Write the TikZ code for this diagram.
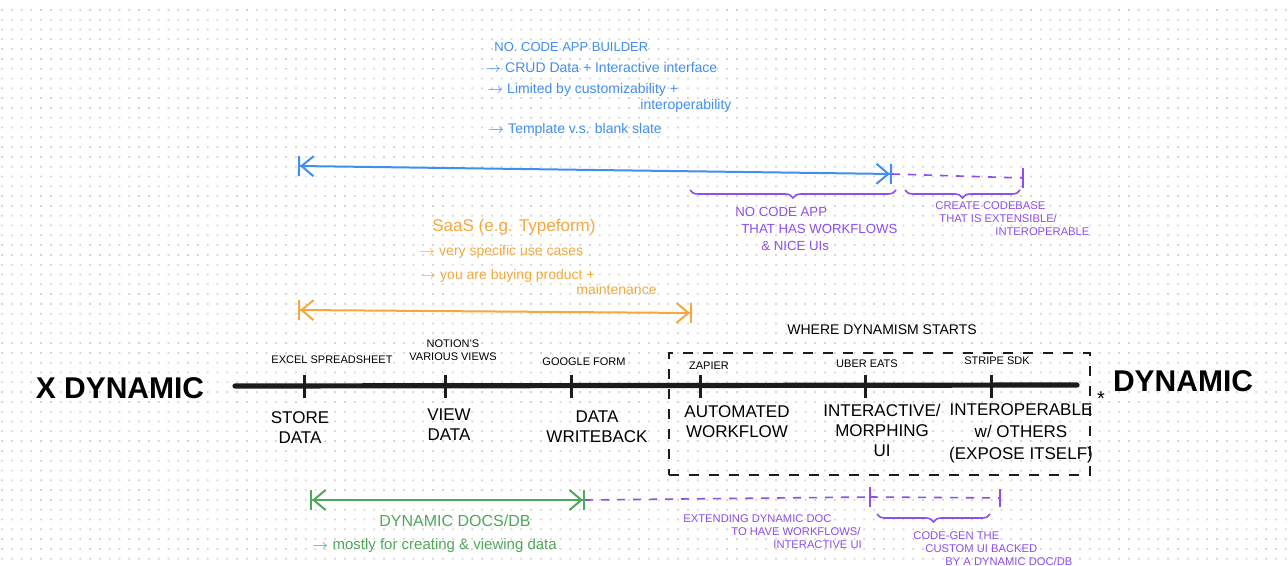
\documentclass[tikz,border=0pt]{standalone}
\usepackage{fontspec}
\setmainfont{Liberation Sans}
\usetikzlibrary{arrows.meta,decorations.pathreplacing}

\definecolor{inkblack}{RGB}{28,28,28}
\definecolor{sketchblue}{RGB}{66,142,240}
\definecolor{sketchorange}{RGB}{244,168,62}
\definecolor{sketchgreen}{RGB}{78,168,92}
\definecolor{sketchpurple}{RGB}{140,78,240}
\definecolor{dotgray}{RGB}{214,214,214}

\tikzset{
  ticklabel/.style={font=\fontsize{5.5}{6.5}\selectfont, align=center, inner sep=0pt},
  stagelabel/.style={font=\fontsize{8.5}{10}\selectfont, align=center, inner sep=0pt},
  endlabel/.style={font=\bfseries\fontsize{15}{16}\selectfont, inner sep=0pt},
  bignote/.style={font=\fontsize{7}{9}\selectfont, align=left, inner sep=0pt, anchor=west},
  smallnote/.style={font=\fontsize{5.6}{6.6}\selectfont, align=left, inner sep=0pt, anchor=north west},
  spanarrow/.style={line width=1pt, {Bar[width=10pt]Straight Barb[length=6pt,width=10pt]}-{Straight Barb[length=6pt,width=10pt]Bar[width=10pt]}},
  extdash/.style={sketchpurple, line width=0.8pt, dash pattern=on 4pt off 4pt},
  extbar/.style={sketchpurple, line width=1pt},
  spanbrace/.style={sketchpurple, line width=0.8pt, decorate, decoration={brace, amplitude=4pt, mirror}},
}

\begin{document}
\begin{tikzpicture}[x=0.5pt,y=-0.5pt]
\useasboundingbox (0,0) rectangle (1288,566);
\fill[white] (0,0) rectangle (1288,566);
\foreach \gy in {9,18.8,...,566} {
  \fill[dotgray] \foreach \gx in {1,10.8,...,1288} {(\gx,\gy) rectangle +(1.8,1.8)};
}

% timeline
\node[endlabel] (xdyn) at (120,388) {X DYNAMIC};
\node[endlabel] (dyn) at (1183,381) {DYNAMIC};
\coordinate (axisL) at (235,386);
\coordinate (axisR) at (1077,385);
\draw[inkblack, line width=2.6pt, line cap=round] (axisL) -- (axisR);
\foreach \tx [count=\ti] in {304,445,571,700,865,991} {
  \coordinate (tick\ti) at (\tx,386);
  \draw[inkblack, line width=1.5pt] (\tx,375) -- (\tx,398);
}

\node[ticklabel] (excel) at (332,360) {EXCEL SPREADSHEET};
\node[ticklabel] (notion) at (453,350) {NOTION'S\\VARIOUS VIEWS};
\node[ticklabel] (gform) at (584,362) {GOOGLE FORM};
\node[ticklabel] (zapier) at (709,366) {ZAPIER};
\node[ticklabel] (uber) at (867,364) {UBER EATS};
\node[ticklabel] (stripe) at (997,361) {STRIPE SDK};

\node[stagelabel] (store) at (300,428) {STORE\\DATA};
\node[stagelabel] (view) at (449,425) {VIEW\\DATA};
\node[stagelabel] (writeback) at (597,427) {DATA\\WRITEBACK};
\node[stagelabel] (automated) at (737,422) {AUTOMATED\\WORKFLOW};
\node[stagelabel] (morphing) at (882,430) {INTERACTIVE/\\MORPHING\\UI};
\node[stagelabel, font=\fontsize{8.5}{11}\selectfont] (interop) at (1021,433) {INTEROPERABLE\\w/ OTHERS\\(EXPOSE ITSELF)};
\node[font=\fontsize{10}{10}\selectfont, inner sep=0pt] (star) at (1101,399) {*};

\node[draw=inkblack, line width=1pt, dash pattern=on 5pt off 5pt, minimum width=210.5pt, minimum height=61pt, inner sep=0pt] (dynzone) at (879.5,414) {};
\node[font=\fontsize{7}{8}\selectfont, inner sep=0pt] (dyntitle) at (882,330) {WHERE DYNAMISM STARTS};

% no-code range
\coordinate (blueL) at (298,166);
\coordinate (blueR) at (892,174);
\draw[sketchblue, spanarrow] (blueL) -- (blueR);
\node[bignote, sketchblue, font=\fontsize{6.5}{8}\selectfont] (nocode) at (494,47) {NO. CODE APP BUILDER};
\node[bignote, sketchblue] (crud) at (485,68) {$\rightarrow$ CRUD Data + Interactive interface};
\node[bignote, sketchblue] (limited) at (487,90) {$\rightarrow$ Limited by customizability +};
\node[bignote, sketchblue] (interopb) at (640,106) {interoperability};
\node[bignote, sketchblue] (template) at (488,130) {$\rightarrow$ Template v.s. blank slate};

\coordinate (codebaseR) at (1023,178);
\draw[extdash] (blueR) -- (codebaseR);
\draw[extbar] (1023,168) -- (1023,188);
\draw[spanbrace] (690,190) -- (896,190);
\draw[spanbrace] (905,190) -- (1020,190);
\node[smallnote, sketchpurple, font=\fontsize{6.6}{8.4}\selectfont] (nocodeapp) at (735,207) {NO CODE APP\\\hspace*{3pt}THAT HAS WORKFLOWS\\\hspace*{13pt}\& NICE UIs};
\node[smallnote, sketchpurple] (codebase) at (935,201) {CREATE CODEBASE\\\hspace*{2pt}THAT IS EXTENSIBLE/\\\hspace*{30pt}INTEROPERABLE};

% saas range
\coordinate (saasL) at (298,310);
\coordinate (saasR) at (692,313);
\draw[sketchorange, spanarrow] (saasL) -- (saasR);
\node[bignote, sketchorange, font=\fontsize{8.5}{10}\selectfont] (saas) at (432,227) {SaaS (e.g. Typeform)};
\node[bignote, sketchorange] (specific) at (419,252) {$\rightarrow$ very specific use cases};
\node[smallnote, sketchorange, font=\fontsize{7}{7.5}\selectfont] (buying) at (420,269) {$\rightarrow$ you are buying product +\\\hspace*{78pt}maintenance};

% dynamic docs range
\coordinate (docsL) at (310,500);
\coordinate (docsR) at (585,500);
\draw[sketchgreen, spanarrow] (docsL) -- (docsR);
\node[sketchgreen, font=\fontsize{8}{9}\selectfont, inner sep=0pt] (docs) at (455,521) {DYNAMIC DOCS/DB};
\node[bignote, sketchgreen, font=\fontsize{7.5}{9}\selectfont] (mostly) at (312,546) {$\rightarrow$ mostly for creating \& viewing data};

\coordinate (extendR) at (870,497);
\coordinate (codegenR) at (1000,498);
\draw[extdash] (docsR) -- (extendR);
\draw[extdash] (extendR) -- (codegenR);
\draw[extbar] (870,487) -- (870,507);
\draw[extbar] (1000,489) -- (1000,507);
\draw[spanbrace] (877,514) -- (990,514);
\node[smallnote, sketchpurple] (extending) at (683,514) {EXTENDING DYNAMIC DOC\\\hspace*{24pt}TO HAVE WORKFLOWS/\\\hspace*{45pt}INTERACTIVE UI};
\node[smallnote, sketchpurple] (codegen) at (913,531) {CODE-GEN THE\\\hspace*{6pt}CUSTOM UI BACKED\\\hspace*{16pt}BY A DYNAMIC DOC/DB};
\end{tikzpicture}
\end{document}
